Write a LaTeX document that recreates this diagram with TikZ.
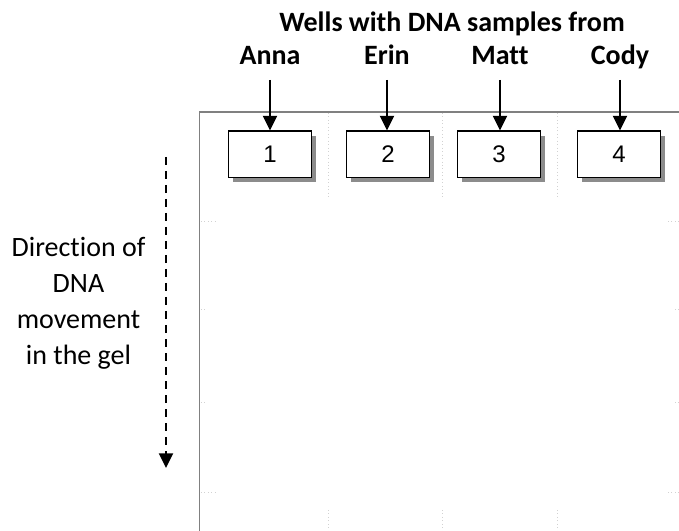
\documentclass[tikz,border=0pt]{standalone}
\usepackage{fontspec}
\setmainfont{Carlito}[Ligatures=CommonOff]
\newfontfamily\wellfont{Liberation Sans}
\usetikzlibrary{arrows.meta,positioning,shadows}

\begin{document}
\begin{tikzpicture}[
  x=0.75pt, y=-0.75pt,
  font=\fontsize{21}{27}\selectfont,
  >={Triangle[width=10.5pt,length=11pt]},
  well/.style={draw, line width=1pt, fill=white, minimum width=62pt, minimum height=35pt, inner sep=0pt,
    font=\wellfont\fontsize{18}{21}\selectfont,
    drop shadow={shadow xshift=3.5pt, shadow yshift=-3.5pt, fill=gray!90, opacity=1}},
  person/.style={font=\fontsize{21}{27}\selectfont\bfseries, inner sep=0pt, text depth=0pt, anchor=base},
  edge/.style={->, line width=1.7pt},
  flow/.style={->, line width=1.7pt, dash pattern=on 6pt off 4.5pt},
  gel/.style={draw=gray, line width=1pt},
  tick/.style={draw=gray!35, line width=0.6pt, dotted}
]
\useasboundingbox (0,0) rectangle (679,531);

% gel outline and faint grid marks
\draw[gel] (199.5,531) -- (199.5,112) -- (679,112);
\foreach \gx in {328,442,557} {
  \draw[tick] (\gx,113) -- (\gx,198);
  \draw[tick] (\gx,510) -- (\gx,531);
}
\foreach \gy/\len in {221/16,309/6,402/6,492/16} {
  \draw[tick] (201,\gy) -- ++(\len,0);
  \draw[tick] (679,\gy) -- ++(-\len*0.7,0);
}

% labels
\node[person] (title) at (452,32) {Wells with DNA samples from};
\node[person] (anna) at (270,65) {Anna};
\node[person] (erin) at (387,65) {Erin};
\node[person] (matt) at (500,65) {Matt};
\node[person] (cody) at (620,65) {Cody};

% wells
\node[well] (w1) at (270,154.5) {1};
\node[well] (w2) at (388,154.5) {2};
\node[well] (w3) at (499,154.5) {3};
\node[well] (w4) at (619,154.5) {4};

\draw[edge] ([yshift=-11pt]anna.south) -- (anna.south |- w1.north);
\draw[edge] ([yshift=-11pt]erin.south) -- (erin.south |- w2.north);
\draw[edge] ([yshift=-11pt]matt.south) -- (matt.south |- w3.north);
\draw[edge] ([yshift=-11pt]cody.south) -- (cody.south |- w4.north);

% direction of movement
\node[align=center, anchor=base] (dir) at (78.5,364) {Direction of\\DNA\\movement\\in the gel};
\coordinate (dtop) at (166,157);
\coordinate (dbot) at (166,468);
\draw[flow] (dtop) -- (dbot);
\end{tikzpicture}
\end{document}
